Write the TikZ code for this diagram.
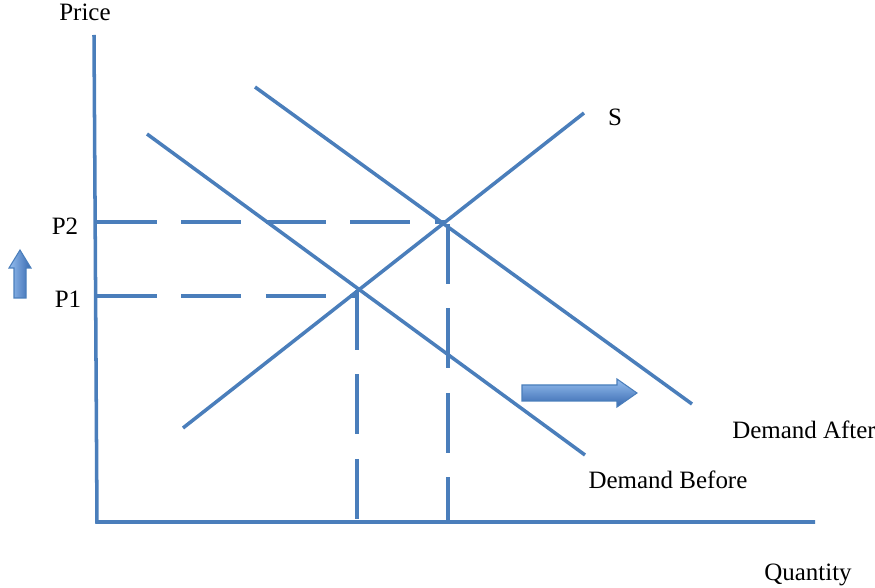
\documentclass[tikz,border=0pt]{standalone}
\usepackage{fontspec}
\setmainfont{Liberation Serif}
\definecolor{ln}{RGB}{74,126,187}
\definecolor{arrlight}{RGB}{150,190,240}
\definecolor{arrdark}{RGB}{55,105,175}
\tikzset{
  curve/.style={draw=ln,line width=1pt},
  guide/.style={draw=ln,line width=1pt,dash pattern=on 17pt off 7pt},
  lbl/.style={font=\fontsize{7.1pt}{8.5pt}\selectfont,inner sep=0pt},
  shiftarrow/.style={draw=ln,line width=0.3pt,top color=arrlight,bottom color=arrdark},
}
\begin{document}
\begin{tikzpicture}[x=0.01cm,y=-0.01cm]
\useasboundingbox (0,0) rectangle (875,588);
\coordinate (ytop) at (94,35);
\coordinate (orig) at (97,522);
\coordinate (xend) at (815,522);
\draw[curve] (ytop) -- (orig) -- (xend);
\coordinate (s1) at (183,428); \coordinate (s2) at (584,113);
\coordinate (d1) at (147,134); \coordinate (d2) at (585,455);
\coordinate (a1) at (255,87); \coordinate (a2) at (692,404);
\draw[curve] (s1) -- (s2);
\draw[curve] (d1) -- (d2);
\draw[curve] (a1) -- (a2);
\coordinate (e1) at (357,290); \coordinate (e2) at (446,222);
\coordinate (p1) at (97,296); \coordinate (p2) at (97,222);
\coordinate (q1) at (357,522); \coordinate (q2) at (448,522);
\draw[guide] (p2) -- (e2);
\draw[guide] (p1) -- (e1 |- p1);
\draw[guide] (e1) -- (q1);
\draw[guide] (448,224) -- (q2);
\node[lbl] (price) at (85,12) {Price};
\node[lbl] (lp2) at (65,226) {P2};
\node[lbl] (lp1) at (68,299) {P1};
\node[lbl] (ls) at (615,117) {S};
\node[lbl] (lda) at (804,430) {Demand After};
\node[lbl] (ldb) at (668,480) {Demand Before};
\node[lbl] (lq) at (808,575) {Quantity};
\path[shiftarrow,left color=arrlight,right color=arrdark] (14,298) -- (14,268) -- (9,268) -- (20,250) -- (31,268) -- (26,268) -- (26,298) -- cycle;
\path[shiftarrow] (522,385) -- (617,385) -- (617,379) -- (637,393) -- (617,407) -- (617,401) -- (522,401) -- cycle;
\end{tikzpicture}
\end{document}
